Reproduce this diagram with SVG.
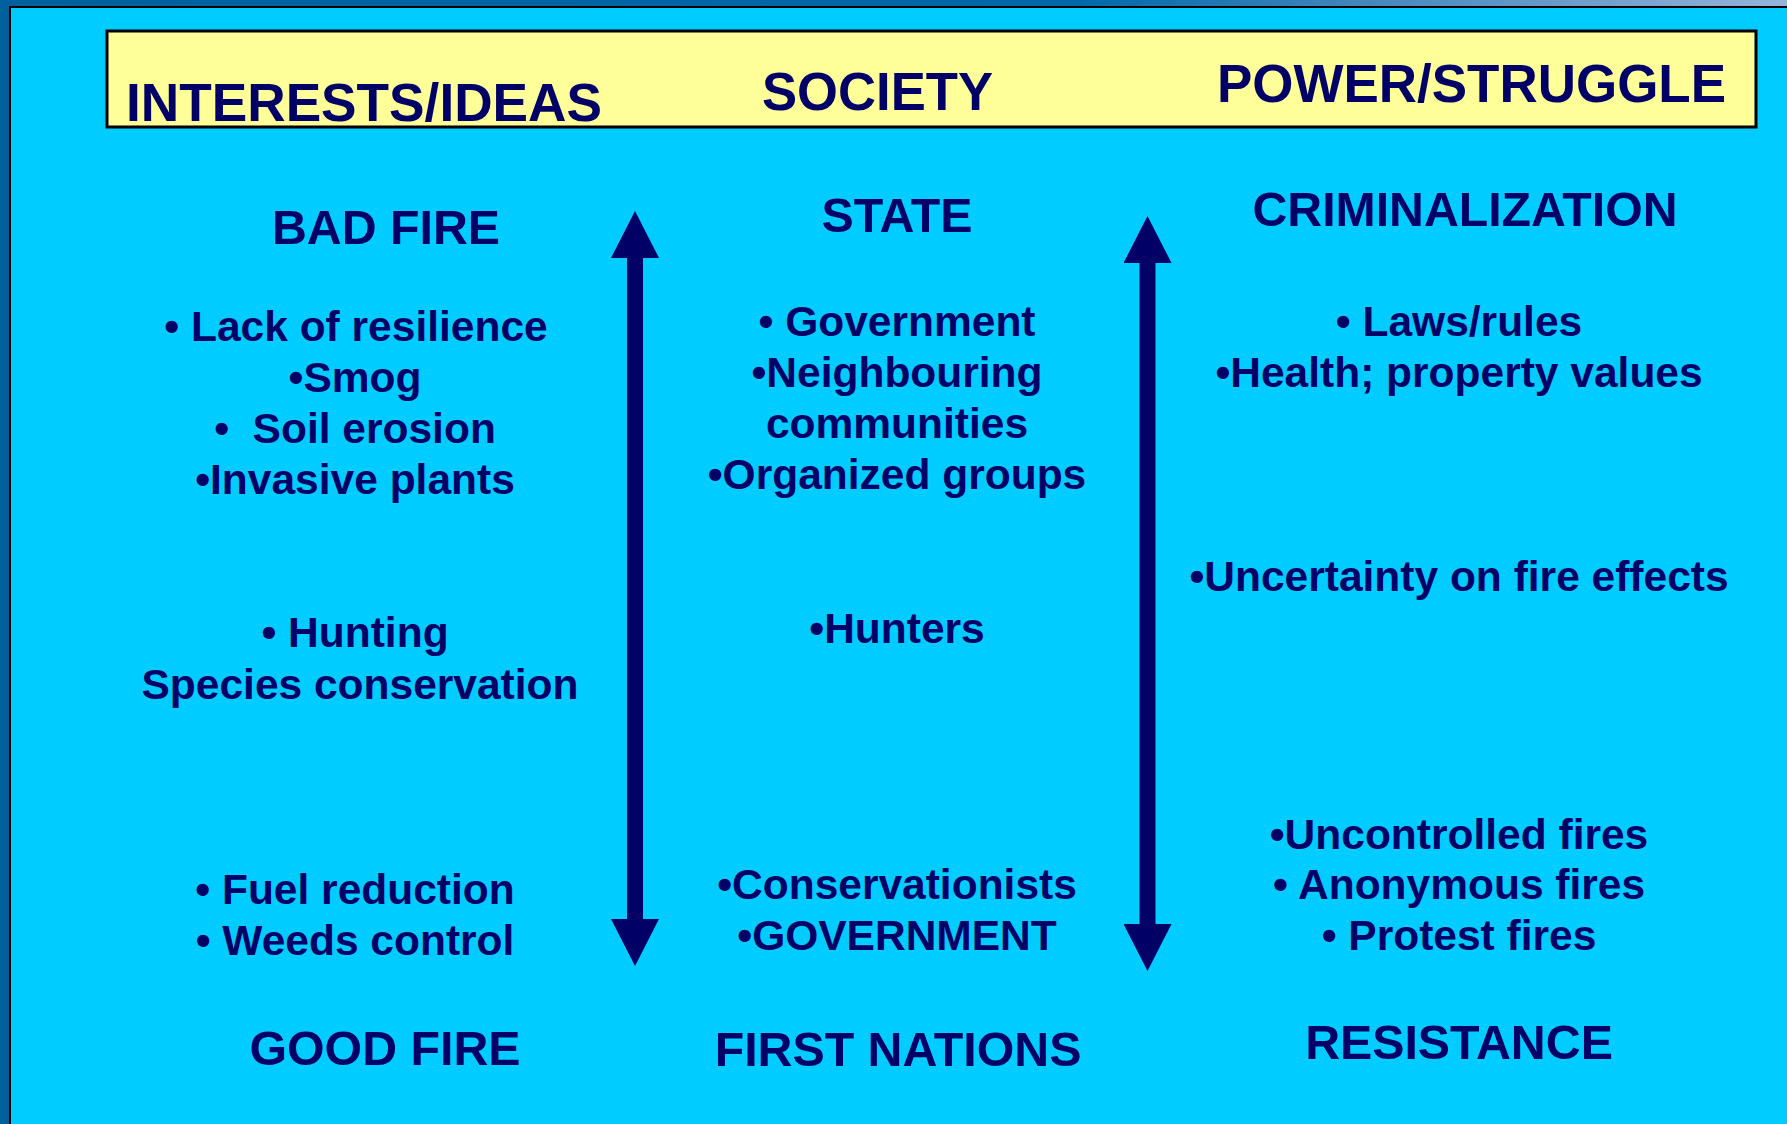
<svg xmlns="http://www.w3.org/2000/svg" width="1787" height="1124" viewBox="0 0 1787 1124">
<defs>
<linearGradient id="topband" x1="0" y1="0" x2="1" y2="0">
<stop offset="0" stop-color="#00609E"/>
<stop offset="0.6" stop-color="#0068A8"/>
<stop offset="0.78" stop-color="#4A8AC0"/>
<stop offset="1" stop-color="#95B4DA"/>
</linearGradient>
<marker id="head" markerUnits="userSpaceOnUse" markerWidth="47" markerHeight="48" viewBox="0 0 47 48" refX="0" refY="24" orient="auto-start-reverse">
<path d="M0,0 L47,24 L0,48 z" fill="#000066"/>
</marker>
</defs>
<style>
text{font-family:"Liberation Sans",Arial,Helvetica,sans-serif;font-weight:bold;fill:#000066}
.hd{font-size:54px}
.tt{font-size:48.3px;text-anchor:middle}
.bd{font-size:42.5px;text-anchor:middle}
.arrow{stroke:#000066;stroke-width:16;fill:none;marker-start:url(#head);marker-end:url(#head)}
</style>
<rect x="0" y="0" width="1787" height="1124" fill="url(#topband)"/>
<rect x="10" y="7" width="1777" height="1117" fill="#00CCFF"/>
<path d="M10,1124 V7 H1787" fill="none" stroke="#000000" stroke-width="2"/>

<g id="header">
<rect x="107" y="31" width="1649" height="96" fill="#FFFF99" stroke="#000000" stroke-width="3"/>
<text class="hd" x="126" y="121" textLength="476" lengthAdjust="spacingAndGlyphs">INTERESTS/IDEAS</text>
<text class="hd" x="762" y="110" textLength="231" lengthAdjust="spacingAndGlyphs">SOCIETY</text>
<text class="hd" x="1217" y="102" textLength="509" lengthAdjust="spacingAndGlyphs">POWER/STRUGGLE</text>
</g>

<g id="connectors">
<line class="arrow" x1="635" y1="258" x2="635" y2="919"/>
<line class="arrow" x1="1147.5" y1="263" x2="1147.5" y2="924"/>
</g>

<g id="bad-fire">
<text class="tt" x="386" y="244">BAD FIRE</text>
<text class="bd" x="356" y="341">• Lack of resilience</text>
<text class="bd" x="355" y="392">•Smog</text>
<text class="bd" x="355" y="443" xml:space="preserve">•  Soil erosion</text>
<text class="bd" x="355" y="494">•Invasive plants</text>
</g>
<g id="hunting">
<text class="bd" x="355" y="647">• Hunting</text>
<text class="bd" x="360" y="699">Species conservation</text>
</g>
<g id="good-fire">
<text class="bd" x="355" y="904">• Fuel reduction</text>
<text class="bd" x="355" y="955">• Weeds control</text>
<text class="tt" x="385" y="1065">GOOD FIRE</text>
</g>

<g id="state">
<text class="tt" x="897" y="232">STATE</text>
<text class="bd" x="897" y="336">• Government</text>
<text class="bd" x="897" y="387">•Neighbouring</text>
<text class="bd" x="897" y="438">communities</text>
<text class="bd" x="897" y="489">•Organized groups</text>
</g>
<g id="hunters">
<text class="bd" x="897" y="643">•Hunters</text>
</g>
<g id="first-nations">
<text class="bd" x="897" y="899">•Conservationists</text>
<text class="bd" x="897" y="950">•GOVERNMENT</text>
<text class="tt" x="898" y="1066">FIRST NATIONS</text>
</g>

<g id="criminalization">
<text class="tt" x="1465" y="226" textLength="425" lengthAdjust="spacingAndGlyphs">CRIMINALIZATION</text>
<text class="bd" x="1459" y="336">• Laws/rules</text>
<text class="bd" x="1459" y="387">•Health; property values</text>
</g>
<g id="uncertainty">
<text class="bd" x="1459" y="591">•Uncertainty on fire effects</text>
</g>
<g id="resistance">
<text class="bd" x="1459" y="849">•Uncontrolled fires</text>
<text class="bd" x="1459" y="899">• Anonymous fires</text>
<text class="bd" x="1459" y="950">• Protest fires</text>
<text class="tt" x="1459" y="1059">RESISTANCE</text>
</g>
</svg>
